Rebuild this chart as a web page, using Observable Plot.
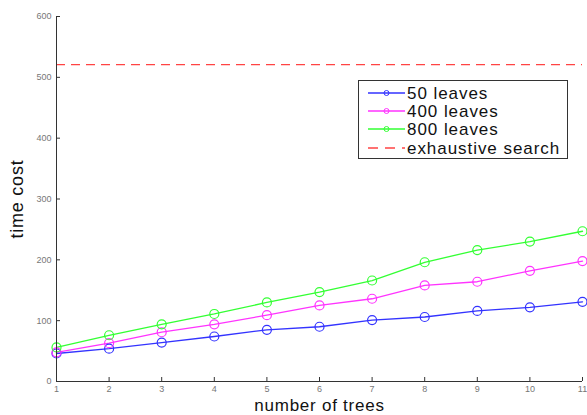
<!DOCTYPE html>
<html>
<head>
<meta charset="utf-8">
<script src="https://cdn.jsdelivr.net/npm/d3@7"></script>
<script src="https://cdn.jsdelivr.net/npm/@observablehq/plot@0.6"></script>
<style>
  html, body { margin: 0; padding: 0; background: #fff; }
  #wrap { position: relative; width: 587px; height: 415px; font-family: "Liberation Sans", Arial, sans-serif; }
  #legend { position: absolute; left: 358px; top: 80px; width: 210px; height: 79px; border: 1px solid #333; background: #fff; box-sizing: border-box; }
  .row { position: absolute; left: 0; height: 18px; line-height: 17px; display: flex; align-items: center; font-size: 17px; letter-spacing: 0.95px; color: #111; white-space: nowrap; }
  .row svg { margin-left: 9px; margin-right: 2px; }
  g[aria-label="y-axis label"] text, g[aria-label="x-axis label"] text { letter-spacing: 0.75px; }
</style>
</head>
<body>
<div id="wrap"><div id="legend"></div></div>
<script>
const trees = [1, 2, 3, 4, 5, 6, 7, 8, 9, 10, 11];
const leaves50 = [46, 54, 64, 74, 85, 90, 101, 106, 116, 122, 131];
const leaves400 = [48, 63, 81, 94, 109, 125, 136, 158, 164, 182, 198];
const leaves800 = [56, 76, 94, 111, 130, 147, 166, 196, 216, 230, 247];
const exhaustive = 521;
const seriesNames = ["50 leaves", "400 leaves", "800 leaves", "exhaustive search"];
const seriesColors = ["#3333ff", "#ff33ff", "#33ff33", "#ff4444"];
const xTicks = [1, 2, 3, 4, 5, 6, 7, 8, 9, 10, 11];
const yTicks = [0, 100, 200, 300, 400, 500, 600];

const rows = [];
[leaves50, leaves400, leaves800].forEach((vals, s) => {
  trees.forEach((t, i) => rows.push({series: seriesNames[s], trees: t, cost: vals[i]}));
});

const chart = Plot.plot({
  width: 587,
  height: 415,
  marginLeft: 56,
  marginRight: 5,
  marginTop: 16,
  marginBottom: 34,
  style: {fontFamily: "Liberation Sans, Arial, sans-serif", background: "#fff"},
  x: {domain: [1, 11]},
  y: {domain: [0, 600]},
  color: {domain: seriesNames, range: seriesColors},
  marks: [
    Plot.ruleY([exhaustive], {stroke: seriesColors[3], strokeWidth: 1.3, strokeDasharray: "9,6"}),
    Plot.line(rows, {x: "trees", y: "cost", z: "series", stroke: "series", strokeWidth: 1.3}),
    Plot.dot(rows, {x: "trees", y: "cost", stroke: "series", r: 4.5, strokeWidth: 1.2}),
    Plot.ruleX([1], {stroke: "#333"}),
    Plot.ruleY([0], {stroke: "#333"}),
    Plot.axisY({ticks: yTicks, tickSize: -4, tickPadding: 9, fontSize: 9, color: "#777", stroke: "#333", label: null}),
    Plot.axisX({ticks: xTicks, tickSize: -4, tickPadding: 8, fontSize: 9, color: "#777", stroke: "#333", label: null}),
    Plot.axisY({ticks: [], label: "time cost", labelAnchor: "center", labelArrow: "none", labelOffset: 46, fontSize: 18, color: "#111"}),
    Plot.axisX({ticks: [], label: "number of trees", labelAnchor: "center", labelArrow: "none", labelOffset: 29, fontSize: 17, color: "#111"})
  ]
});
document.getElementById("wrap").prepend(chart);

const legend = document.getElementById("legend");
seriesNames.forEach((name, i) => {
  const row = document.createElement("div");
  row.className = "row";
  row.style.top = [3, 21, 39, 58][i] + "px";
  const dash = i === 3 ? 'stroke-dasharray="10,7"' : "";
  const marker = i === 3 ? "" : `<circle cx="18.5" cy="9" r="2.5" fill="none" stroke="${seriesColors[i]}" stroke-width="1"/>`;
  row.innerHTML = `<svg width="37" height="18"><line x1="0" x2="37" y1="9" y2="9" stroke="${seriesColors[i]}" stroke-width="1.3" ${dash}/>${marker}</svg><span>${name}</span>`;
  legend.appendChild(row);
});
</script>
</body>
</html>
